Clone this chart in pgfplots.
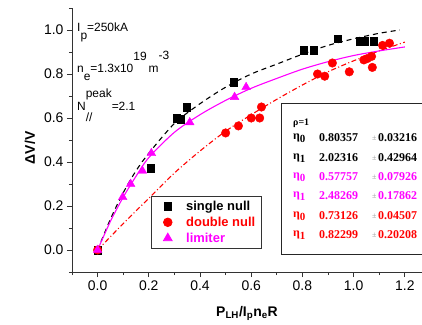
\documentclass[border=0pt]{standalone}
\usepackage{fontspec}
\setmainfont{Liberation Sans}
\newfontfamily\serifb{Liberation Serif}
\usepackage{pgfplots}
\pgfplotsset{compat=1.18}
\definecolor{mag}{rgb}{1,0,1}
\definecolor{rd}{rgb}{1,0,0}
\pgfplotsset{legimg/.style={legend image code/.code={\path (0bp,0bp) (28bp,0bp); \draw[mark repeat=2,mark phase=2,##1] plot coordinates {(0bp,0bp)(12bp,0bp)(24bp,0bp)};}}}
\begin{document}
\begin{tikzpicture}[x=1bp,y=1bp]
\useasboundingbox (-72,-53) rectangle (350,272);
\begin{axis}[
  at={(0,0)}, anchor=south west,
  scale only axis, width=350bp, height=264bp,
  xmin=-0.1, xmax=1.267, ymin=-0.1, ymax=1.1,
  axis x line=bottom, axis y line=left,
  axis line style={-, line width=0.9pt, black!80},
  xtick={0,0.2,0.4,0.6,0.8,1.0,1.2}, ytick={0,0.2,0.4,0.6,0.8,1.0},
  minor xtick={-0.1,0.1,0.3,0.5,0.7,0.9,1.1},
  minor ytick={-0.1,0.1,0.3,0.5,0.7,0.9,1.1},
  tick align=outside, major tick length=5bp, minor tick length=3bp,
  every tick/.style={line width=0.8pt, black!80},
  /pgf/number format/assume math mode=true,
  xticklabel style={/pgf/number format/.cd, fixed, fixed zerofill, precision=1},
  yticklabel style={/pgf/number format/.cd, fixed, fixed zerofill, precision=1},
  ticklabel style={font=\fontsize{14}{16}\selectfont},
  xlabel={\bfseries P\textsubscript{LH}/I\textsubscript{p}n\textsubscript{e}R},
  ylabel={\bfseries ΔV/V},
  xlabel style={at={(axis description cs:0.5,0)}, anchor=base, yshift=-44bp, font=\fontsize{14}{16}\selectfont},
  ylabel style={at={(axis description cs:-0.12,0.47)}, anchor=center, font=\fontsize{14}{16}\selectfont},
  legend style={at={(axis description cs:0.2257,0.0871)}, anchor=south west,
    draw=black!80, line width=0.8pt, fill=white,
    font=\fontsize{13}{15}\selectfont\bfseries, row sep=1bp,
    inner xsep=4bp, inner ysep=3bp},
  legend cell align=left,
  clip=false,
]
% fitted curves
\addplot[black, line width=1.1pt, dash pattern=on 5bp off 4bp, smooth, forget plot] coordinates {
(0,0) (0.05,0.14) (0.1,0.26) (0.15,0.36) (0.2,0.44) (0.3,0.575) (0.4,0.665) (0.5,0.74) (0.6,0.80) (0.7,0.845) (0.8,0.89) (0.9,0.93) (1.0,0.96) (1.1,0.985) (1.18,1.0)};
\addplot[rd, line width=1.1pt, dash pattern=on 5bp off 2.5bp on 1bp off 2.5bp, smooth, forget plot] coordinates {
(0,0) (0.1,0.12) (0.2,0.235) (0.3,0.35) (0.4,0.45) (0.5,0.54) (0.6,0.615) (0.7,0.685) (0.8,0.75) (0.9,0.81) (1.0,0.86) (1.1,0.905) (1.2,0.945)};
\addplot[mag, line width=1.1pt, smooth, forget plot] coordinates {
(0,0) (0.05,0.13) (0.1,0.24) (0.15,0.335) (0.2,0.42) (0.3,0.535) (0.4,0.615) (0.5,0.68) (0.6,0.735) (0.7,0.78) (0.8,0.822) (0.9,0.856) (1.0,0.884) (1.1,0.905) (1.2,0.923)};
% data
\addplot[only marks, mark=square*, mark size=3.8bp, black, legimg] coordinates {
(0,0) (0.207,0.373) (0.309,0.60) (0.324,0.595) (0.348,0.65) (0.531,0.764) (0.805,0.909) (0.844,0.909) (0.937,0.96) (1.023,0.95) (1.043,0.95) (1.078,0.95)};
\addlegendentry{single null}
\addplot[only marks, mark=*, mark size=4.3bp, rd, legimg] coordinates {
(0,0) (0.50,0.532) (0.55,0.564) (0.60,0.60) (0.633,0.60) (0.64,0.65) (0.859,0.80) (0.887,0.79) (0.917,0.85) (0.983,0.81) (1.04,0.864) (1.053,0.87) (1.07,0.88) (1.073,0.83) (1.113,0.93) (1.14,0.94)};
\addlegendentry{\textcolor{rd}{double null}}
\addplot[only marks, mark=triangle*, mark size=5bp, mag, legimg] coordinates {
(0,0) (0.098,0.24) (0.129,0.30) (0.175,0.36) (0.21,0.44) (0.36,0.58) (0.535,0.695) (0.58,0.74)};
\addlegendentry{\textcolor{mag}{limiter}}
\end{axis}
% annotations top-left
\begin{scope}[every node/.style={inner sep=0pt, anchor=base west, font=\fontsize{12}{14}\selectfont}]
\node at (5,241) {I\raisebox{-8bp}{p}=250kA};
\node at (5,200) {n\raisebox{-8bp}{e}=1.3x10\raisebox{12bp}{19}\,m\raisebox{13bp}{-3}};
\node at (5,162) {N\rlap{\raisebox{-11bp}{//}}\raisebox{13bp}{peak}=2.1};
\end{scope}
% fit parameter box
\draw[line width=0.8pt, black!85, fill=white] (209,18) rectangle (360,169);
\begin{scope}[every node/.style={inner sep=0pt, anchor=west, font=\serifb\bfseries\fontsize{12}{14}\selectfont}]
\node[font=\serifb\bfseries\fontsize{10}{12}\selectfont] at (221,149) {ρ=1};
\foreach \y/\c/\s/\a/\b in {134/black/0/0.80357/0.03216, 114/black/1/2.02316/0.42964, 95/mag/0/0.57757/0.07926, 76/mag/1/2.48269/0.17862, 56/rd/0/0.73126/0.04507, 37/rd/1/0.82299/0.20208}{
  \node[text=\c] at (221,\y) {η\raisebox{-3bp}{\fontsize{11}{12}\selectfont\s}};
  \node[text=\c] at (247,\y) {\a};
  \node[text=black!40, font=\serifb\fontsize{8}{9}\selectfont] at (300,\y) {±};
  \node[text=\c] at (306,\y) {\b};
}
\end{scope}
\end{tikzpicture}
\end{document}
